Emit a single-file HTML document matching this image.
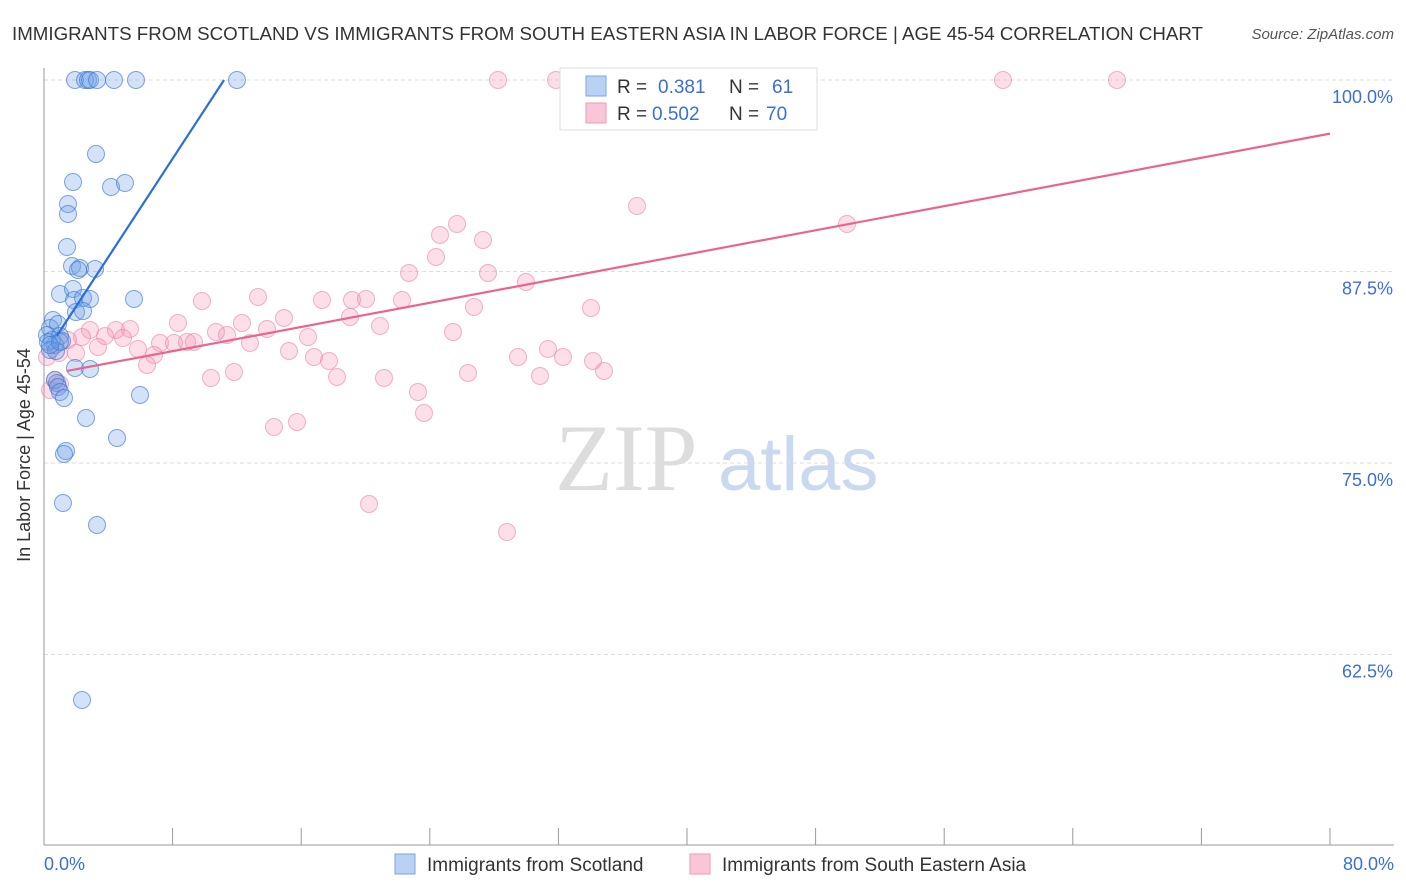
<!DOCTYPE html>
<html><head><meta charset="utf-8"><style>
body{margin:0;background:#fff;font-family:"Liberation Sans",sans-serif;}
svg{display:block}
</style></head><body>
<svg width="1406" height="892" id="chart">
<text x="12" y="40" font-size="18.5" fill="#333" textLength="1191" lengthAdjust="spacingAndGlyphs">IMMIGRANTS FROM SCOTLAND VS IMMIGRANTS FROM SOUTH EASTERN ASIA IN LABOR FORCE | AGE 45-54 CORRELATION CHART</text>
<text x="1394" y="39" font-size="15" fill="#555" font-style="italic" text-anchor="end">Source: ZipAtlas.com</text>
<text x="555" y="490" font-size="95" fill="#ddd" font-family="Liberation Serif,serif">ZIP</text>
<text x="718" y="490" font-size="76" fill="#c9daf0">atlas</text>
<g id="grid"></g>
<line x1="44" y1="68" x2="44" y2="845" stroke="#999"/>
<line x1="44" y1="845" x2="1394" y2="845" stroke="#999"/>
<g id="xticks"></g>
<text x="30" y="455" font-size="18" fill="#333" text-anchor="middle" transform="rotate(-90 30 455)">In Labor Force | Age 45-54</text>
<text x="44" y="870" font-size="18" fill="#3a6fd8">0.0%</text>
<text x="1394" y="870" font-size="18" fill="#3a6fd8" text-anchor="end">80.0%</text>
<g id="pts"></g>
<g id="lines"></g>
<g>
<rect x="560" y="68" width="257" height="62" fill="#fff" stroke="#ddd"/>
<rect x="586" y="76" width="20" height="20" fill="#b9d1f3" stroke="#7aa5e6"/>
<rect x="586" y="103" width="20" height="20" fill="#f8c6d6" stroke="#ee9ab6"/>
<text x="617" y="93" font-size="19" fill="#333">R = <tspan x="658" fill="#3a6fd8">0.381</tspan><tspan x="729">N = </tspan><tspan x="772" fill="#3a6fd8">61</tspan></text>
<text x="617" y="120" font-size="19" fill="#333">R = <tspan x="652" fill="#3a6fd8">0.502</tspan><tspan x="729">N = </tspan><tspan x="766" fill="#3a6fd8">70</tspan></text>
</g>
<g>
<rect x="395" y="854" width="20" height="20" fill="#b9d1f3" stroke="#7aa5e6"/>
<text x="427" y="871" font-size="19" fill="#333">Immigrants from Scotland</text>
<rect x="690" y="854" width="20" height="20" fill="#f8c6d6" stroke="#ee9ab6"/>
<text x="722" y="871" font-size="19" fill="#333">Immigrants from South Eastern Asia</text>
</g>
</svg>
<script>
const yTicks=[100,87.5,75,62.5];
const xTickCount=10;
const bluePx=[[75,80],[85,80],[88,80],[90,80],[97,80],[114,80],[136,80],[237,80],[96,154],[73,182],[111,187],[125,183],[68,204],[68,214],[67,247],[72,266],[80,268],[78,270],[95,269],[60,294],[73,289],[74,300],[83,298],[90,299],[134,299],[76,312],[83,311],[53,320],[50,328],[58,324],[47,335],[52,340],[60,336],[55,345],[62,341],[48,342],[50,350],[56,351],[75,368],[90,369],[55,380],[57,383],[58,387],[60,392],[64,398],[140,395],[86,418],[117,438],[66,451],[64,454],[63,503],[97,525],[82,700],[50,345],[60,342]];
const pinkPx=[[498,80],[556,80],[1003,80],[1117,80],[637,206],[847,224],[457,224],[440,235],[483,240],[436,257],[409,273],[488,273],[526,282],[258,297],[202,301],[322,300],[352,300],[366,299],[402,300],[474,307],[591,308],[284,318],[178,323],[242,323],[350,317],[380,326],[216,332],[227,335],[267,329],[308,337],[453,332],[90,330],[116,330],[130,329],[105,336],[123,338],[82,337],[68,340],[98,347],[250,343],[160,343],[174,343],[187,342],[194,342],[138,349],[154,355],[289,351],[59,353],[76,353],[147,365],[314,357],[329,361],[548,349],[518,357],[563,357],[593,361],[604,371],[468,373],[540,376],[211,378],[234,372],[337,377],[384,378],[418,392],[424,413],[274,427],[297,422],[369,504],[507,532],[55,380],[60,384],[50,390],[47,357]];
const blueX=bluePx.map(p=>(p[0]-44)/16.075), blueY=bluePx.map(p=>100-(p[1]-80)/15.32);
const pinkX=pinkPx.map(p=>(p[0]-44)/16.075), pinkY=pinkPx.map(p=>100-(p[1]-80)/15.32);
const blueTrend=[[0.8,83.3],[11.2,100]];
const pinkTrend=[[1.4,81.0],[80,96.5]];
const X=v=>44+v*16.075, Y=v=>80+(100-v)*15.32;
const NS="http://www.w3.org/2000/svg";
function mk(t,a,p){const e=document.createElementNS(NS,t);for(const k in a)e.setAttribute(k,a[k]);p.appendChild(e);return e;}
const grid=document.getElementById('grid');
yTicks.forEach(t=>{
 const l=mk('line',{x1:44,x2:1394,y1:Y(t),y2:Y(t),stroke:'#ddd','stroke-dasharray':'4 3'},grid);
 
 
 const tx=mk('text',{x:1393,y:Y(t)+23,'font-size':18,fill:'#3a6fd8','text-anchor':'end'},grid);
 tx.textContent=t.toFixed(1)+'%';
 
 
});
const xt=document.getElementById('xticks');
for(let i=1;i<=xTickCount;i++){const l=mk('line',{x1:X(i*8),x2:X(i*8),y1:828,y2:845,stroke:'#999'},xt);
 
 }
const pts=document.getElementById('pts');
pinkX.forEach((x,i)=>{const c=mk('circle',{cx:X(x),cy:Y(pinkY[i]),r:8.5,fill:'rgba(244,150,180,0.3)',stroke:'rgba(235,130,165,0.6)'},pts);
 
 });
blueX.forEach((x,i)=>{const c=mk('circle',{cx:X(x),cy:Y(blueY[i]),r:8.5,fill:'rgba(110,160,230,0.3)',stroke:'rgba(60,120,215,0.65)'},pts);
 
 });
const lines=document.getElementById('lines');
const b=mk('line',{x1:X(blueTrend[0][0]),y1:Y(blueTrend[0][1]),x2:X(blueTrend[1][0]),y2:Y(blueTrend[1][1]),stroke:'#2b6fd6','stroke-width':2.2},lines);


const p=mk('line',{x1:X(pinkTrend[0][0]),y1:Y(pinkTrend[0][1]),x2:X(pinkTrend[1][0]),y2:Y(pinkTrend[1][1]),stroke:'#e8658f','stroke-width':2.2},lines);


</script>
</body></html>
